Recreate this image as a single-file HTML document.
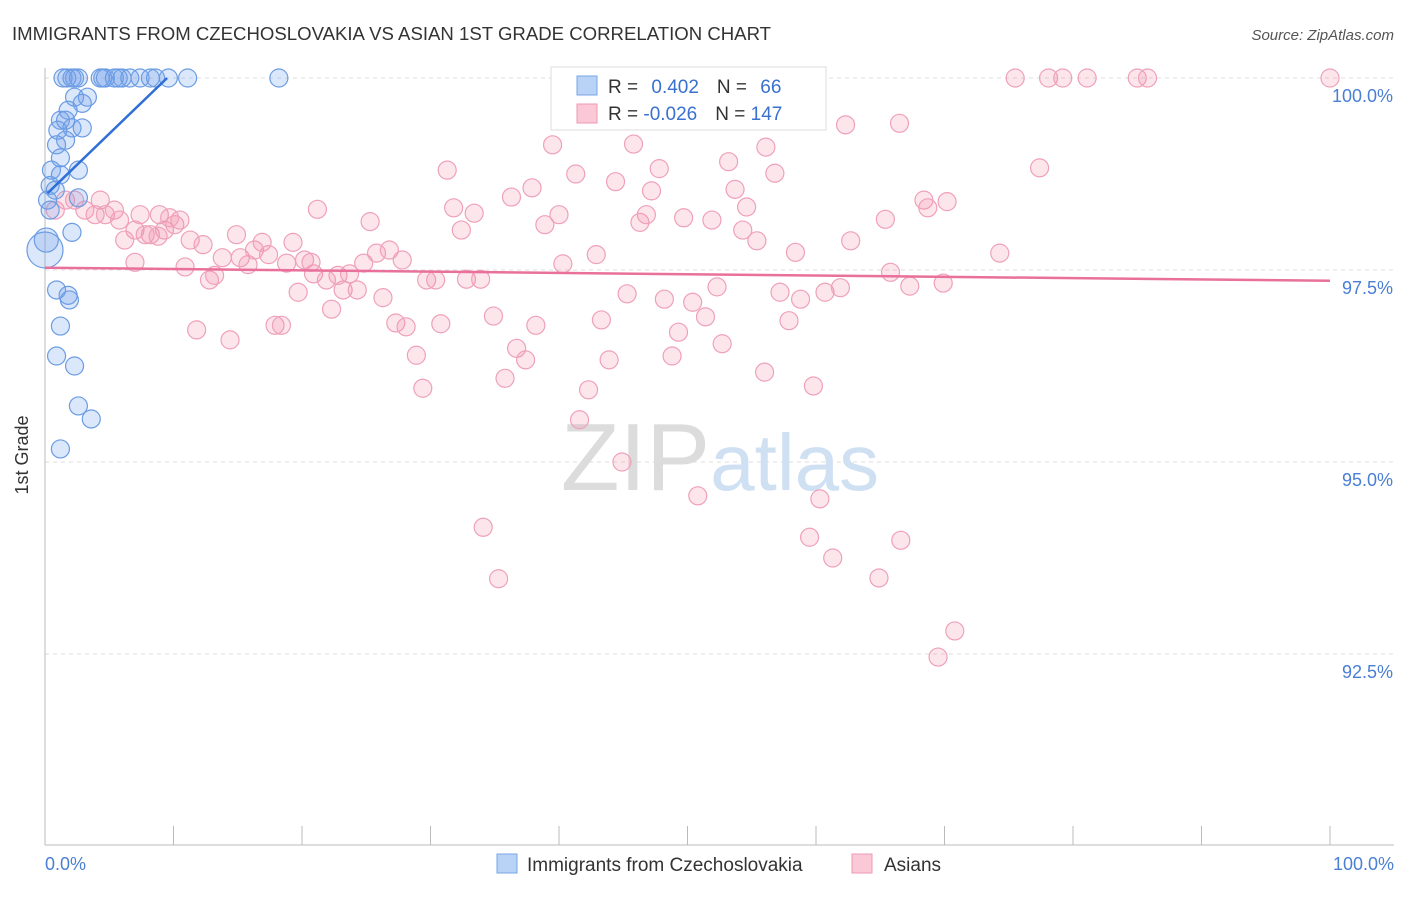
<!DOCTYPE html>
<html><head><meta charset="utf-8"><style>
body{margin:0;background:#fff;font-family:"Liberation Sans",sans-serif;}
svg text{font-family:"Liberation Sans",sans-serif;}
</style></head><body>
<svg id="chart" width="1406" height="892">
<text x="12" y="40" font-size="18.6" fill="#333">IMMIGRANTS FROM CZECHOSLOVAKIA VS ASIAN 1ST GRADE CORRELATION CHART</text>
<text x="1394" y="40" font-size="15" fill="#555" text-anchor="end" font-style="italic">Source: ZipAtlas.com</text>
<g id="grid"></g>
<text x="720" y="490" font-size="96" text-anchor="middle" fill="#ddd" font-family="Liberation Serif"><tspan fill="#dcdcdc">ZIP</tspan><tspan fill="#cfe0f3" font-family="Liberation Sans" font-size="80">atlas</tspan></text>
<g id="pts"></g>
<g id="trends"></g>
<text x="28" y="455" font-size="18" fill="#333" text-anchor="middle" transform="rotate(-90 28 455)">1st Grade</text>
<text x="45" y="870" font-size="18" fill="#4a7fd4">0.0%</text>
<text x="1394" y="870" font-size="18" fill="#4a7fd4" text-anchor="end">100.0%</text>
<g>
<rect x="551" y="67" width="275" height="63" fill="#fff" stroke="#ddd"/>
<rect x="577" y="76" width="20" height="19" fill="#b8d3f5" stroke="#7aa6e6"/>
<rect x="577" y="104" width="20" height="19" fill="#fbc8d8" stroke="#ee9ab5"/>
<text x="608" y="93" font-size="19" fill="#333">R = <tspan fill="#3a70d0" dx="8">0.402</tspan><tspan dx="18" fill="#333">N = </tspan><tspan fill="#3a70d0" dx="8">66</tspan></text>
<text x="608" y="120" font-size="19" fill="#333">R = <tspan fill="#3a70d0" dx="0">-0.026</tspan><tspan dx="18" fill="#333">N = </tspan><tspan fill="#3a70d0" dx="0">147</tspan></text>
</g>
<g>
<rect x="497" y="854" width="20" height="19" fill="#b8d3f5" stroke="#7aa6e6"/>
<text x="527" y="871" font-size="19" fill="#333">Immigrants from Czechoslovakia</text>
<rect x="852" y="854" width="20" height="19" fill="#fbc8d8" stroke="#ee9ab5"/>
<text x="884" y="871" font-size="19" fill="#333">Asians</text>
</g>
</svg>
<script>
const yTicks=[100,97.5,95,92.5];
const yTickLabels=["100.0%","97.5%","95.0%","92.5%"];
const xTicks=[0,10,20,30,40,50,60,70,80,90,100];
const blueX=[1.4,1.7,2.1,2.3,2.6,4.3,4.5,4.7,5.4,5.7,6.0,6.6,7.4,8.2,8.6,9.6,11.1,18.2,2.3,3.3,1.8,2.9,1.2,1.6,2.1,1.0,2.9,1.6,0.9,1.2,0.5,1.2,2.6,0.4,0.8,0.2,2.6,0.4,2.1,0.1,0,0.9,1.8,1.9,1.2,0.9,2.3,2.6,3.6,1.2];
const blueY=[100,100,100,100,100,100,100,100,100,100,100,100,100,100,100,100,100,100,99.75,99.75,99.58,99.67,99.45,99.45,99.35,99.32,99.35,99.19,99.13,98.96,98.8,98.74,98.8,98.6,98.54,98.41,98.44,98.28,97.99,97.89,97.76,97.24,97.17,97.11,96.77,96.38,96.25,95.73,95.56,95.17];
const pinkX=[0.8,1.6,2.3,3.1,3.9,4.3,4.7,5.4,5.8,7.0,7.4,8.2,8.9,9.3,10.1,10.5,6.2,7.0,7.8,8.8,9.7,11.3,10.9,11.8,12.3,12.8,13.2,13.8,14.4,14.9,15.2,15.8,16.3,16.9,17.4,17.9,18.4,18.8,19.3,19.7,20.2,20.7,21.2,20.9,21.9,22.3,22.8,23.2,23.7,24.3,24.8,25.3,25.8,26.3,26.8,27.3,27.8,28.1,28.9,29.4,29.7,30.4,30.8,31.3,31.8,32.4,32.8,33.4,33.9,34.1,34.9,35.3,35.8,36.3,36.7,37.4,37.9,38.2,38.9,39.5,40.0,40.3,41.3,41.6,42.3,42.9,43.3,43.9,44.4,44.9,45.3,45.8,46.3,46.8,47.2,47.8,48.2,48.8,49.3,49.7,50.4,50.8,51.4,51.9,52.3,52.7,53.2,53.7,54.3,54.6,55.4,56.1,56.0,56.8,57.2,57.9,58.4,58.8,59.5,59.8,60.3,60.7,61.3,61.9,62.3,62.7,64.9,65.4,65.8,66.5,66.6,67.3,68.4,68.7,69.9,70.2,70.8,69.5,74.3,75.5,77.4,78.1,79.2,81.1,85.0,85.8,100];
const pinkY=[98.28,98.41,98.41,98.28,98.22,98.41,98.22,98.28,98.15,98.02,98.22,97.96,98.22,98.02,98.09,98.15,97.89,97.6,97.96,97.94,98.18,97.89,97.54,96.72,97.83,97.37,97.43,97.66,96.59,97.96,97.66,97.57,97.76,97.86,97.7,96.78,96.78,97.59,97.86,97.21,97.63,97.6,98.29,97.45,97.37,96.99,97.43,97.24,97.45,97.24,97.59,98.13,97.72,97.14,97.76,96.81,97.63,96.76,96.39,95.96,97.37,97.37,96.8,98.8,98.31,98.02,97.38,98.24,97.38,94.15,96.9,93.48,96.09,98.45,96.48,96.33,98.57,96.78,98.09,99.13,98.22,97.58,98.75,95.55,95.94,97.7,96.85,96.33,98.65,95.0,97.19,99.14,98.12,98.22,98.53,98.82,97.12,96.38,96.69,98.18,97.08,94.56,96.89,98.15,97.28,96.54,98.91,98.55,98.02,98.32,97.88,99.1,96.17,98.76,97.21,96.84,97.73,97.12,94.02,95.99,94.52,97.21,93.75,97.27,99.39,97.88,93.49,98.16,97.47,99.41,93.98,97.29,98.41,98.31,97.33,98.39,92.8,92.46,97.72,100,98.83,100,100,100,100,100,100];
const blueTrendX=[0.2,9.5];
const blueTrendY=[98.5,100];
const pinkTrendX=[0,100];
const pinkTrendY=[97.53,97.36];

const X0=45,X1=1330,YTOP=78,PXPER=76.8;
const sx=v=>X0+(X1-X0)*v/100;
const sy=v=>YTOP+(100-v)*PXPER;
const NS="http://www.w3.org/2000/svg";
function mk(tag,attrs,parent){const e=document.createElementNS(NS,tag);for(const k in attrs)e.setAttribute(k,attrs[k]);parent.appendChild(e);return e;}
const grid=document.getElementById('grid');
yTicks.forEach((t,i)=>{
  const l=mk('line',{x1:45,x2:1394,y1:sy(t),y2:sy(t),stroke:'#ddd','stroke-dasharray':'4,4'},grid);
  
  
  const tx=mk('text',{x:1393,y:sy(t)+24,'font-size':18,fill:'#4a7fd4','text-anchor':'end'},grid);
  tx.textContent=yTickLabels[i];
  
  
});
const ax=mk('line',{x1:45,x2:45,y1:68,y2:845,stroke:'#bbb'},grid);


const bx=mk('line',{x1:45,x2:1394,y1:845,y2:845,stroke:'#bbb'},grid);


xTicks.forEach(t=>{
  const l=mk('line',{x1:sx(t),x2:sx(t),y1:826,y2:845,stroke:'#bbb'},grid);
  
  
});
const pts=document.getElementById('pts');
pinkX.forEach((x,i)=>{
  const c=mk('circle',{cx:sx(x),cy:sy(pinkY[i]),r:9,fill:'rgba(242,140,170,0.22)',stroke:'#efa0ba','stroke-width':1.2},pts);
  
  
});
blueX.forEach((x,i)=>{
  const r=(i==40)?18:(i==39?12:9);
  const c=mk('circle',{cx:sx(x),cy:sy(blueY[i]),r:r,fill:'rgba(110,160,235,0.25)',stroke:'#6b9ce3','stroke-width':1.2},pts);
  
  
});
const tr=document.getElementById('trends');
const bl=mk('line',{x1:sx(blueTrendX[0]),y1:sy(blueTrendY[0]),x2:sx(blueTrendX[1]),y2:sy(blueTrendY[1]),stroke:'#2f6fd6','stroke-width':2.5},tr);


const pl=mk('line',{x1:sx(pinkTrendX[0]),y1:sy(pinkTrendY[0]),x2:sx(pinkTrendX[1]),y2:sy(pinkTrendY[1]),stroke:'#e8709a','stroke-width':2.5},tr);


</script>
</body></html>
